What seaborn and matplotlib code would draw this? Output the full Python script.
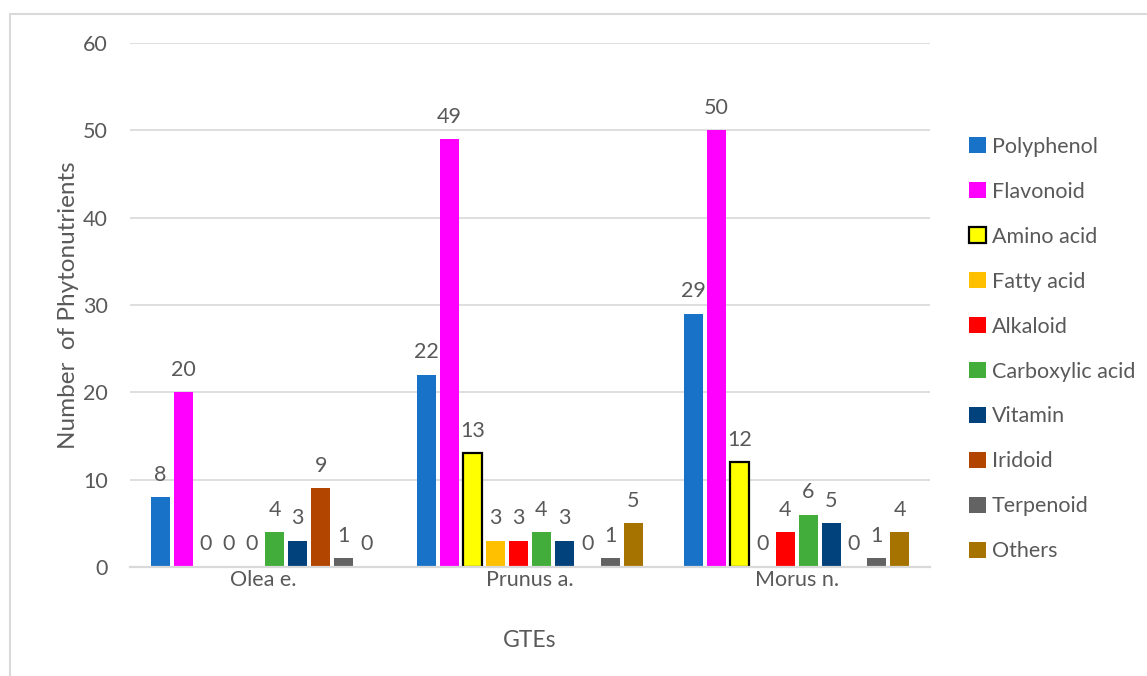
import matplotlib
matplotlib.use("Agg")
import matplotlib.pyplot as plt
from matplotlib.patches import Rectangle
import pandas as pd
import seaborn as sns

# Phytonutrient counts per green tea extract (GTE)
gtes = ["Olea e.", "Prunus a.", "Morus n."]
classes = ["Polyphenol", "Flavonoid", "Amino acid", "Fatty acid", "Alkaloid",
           "Carboxylic acid", "Vitamin", "Iridoid", "Terpenoid", "Others"]
olea = [8, 20, 0, 0, 0, 4, 3, 9, 1, 0]
prunus = [22, 49, 13, 3, 3, 4, 3, 0, 1, 5]
morus = [29, 50, 12, 0, 4, 6, 5, 0, 1, 4]

colors = ["#1872C8", "#FF00FF", "#FFFF00", "#FFC000", "#FF0000",
          "#43AD3B", "#01417C", "#B24500", "#636363", "#A67300"]

rows = []
for gte, vals in zip(gtes, [olea, prunus, morus]):
    for cls, v in zip(classes, vals):
        rows.append({"GTE": gte, "Class": cls, "Count": v})
df = pd.DataFrame(rows)

sns.set_theme(style="white")
plt.rcParams["font.family"] = ["Lato", "DejaVu Sans"]
text_col = "#595959"
grid_col = "#D9D9D9"
fs = 15.5

fig = plt.figure(figsize=(11.47, 6.76), dpi=100)
ax = fig.add_axes([130 / 1147, 109 / 676, 800 / 1147, 524 / 676])

sns.barplot(data=df, x="GTE", y="Count", hue="Class", order=gtes,
            hue_order=classes, palette=colors, width=0.86, gap=0.17,
            saturation=1, ax=ax, legend=True)

for cls, cont in zip(classes, ax.containers):
    for bar in cont:
        if cls == "Amino acid" and bar.get_height() > 0:
            bar.set_edgecolor("black")
            bar.set_linewidth(1.6)
        else:
            bar.set_edgecolor("none")
            bar.set_linewidth(0)
    ax.bar_label(cont, fmt="%d", padding=9, fontsize=fs, color=text_col)

ax.set_ylim(0, 60)
ax.set_yticks(range(0, 61, 10))
ax.grid(axis="y", color=grid_col, linewidth=1.2)
ax.set_axisbelow(True)
for side in ["left", "right", "top"]:
    ax.spines[side].set_visible(False)
ax.spines["bottom"].set_color(grid_col)
ax.spines["bottom"].set_linewidth(1.6)
ax.tick_params(axis="both", length=0, labelsize=fs, labelcolor=text_col)
ax.tick_params(axis="y", pad=16)
ax.tick_params(axis="x", pad=2)
ax.set_xlabel("GTEs", fontsize=16.5, color=text_col, labelpad=29)
ax.set_ylabel("Number  of Phytonutrients", fontsize=17.5, color=text_col,
              labelpad=3)

handles, labels = ax.get_legend_handles_labels()
leg = ax.legend(handles, labels, loc="center left",
                bbox_to_anchor=(1.025, 0.416), frameon=False, fontsize=fs,
                labelcolor=text_col, handlelength=0.75, handleheight=0.75,
                handletextpad=0.3, labelspacing=1.16)
for h, cls in zip(leg.legend_handles, classes):
    if cls == "Amino acid":
        h.set_edgecolor("black")
        h.set_linewidth(1.6)
    else:
        h.set_edgecolor("none")

# Light outer frame around the chart area
fig.add_artist(Rectangle((10 / 1147, -0.2), 2.0, 0.2 + 1 - 14 / 676,
                         transform=fig.transFigure, fill=False,
                         edgecolor=grid_col, linewidth=1.5))

fig.savefig("out.png", dpi=100)
